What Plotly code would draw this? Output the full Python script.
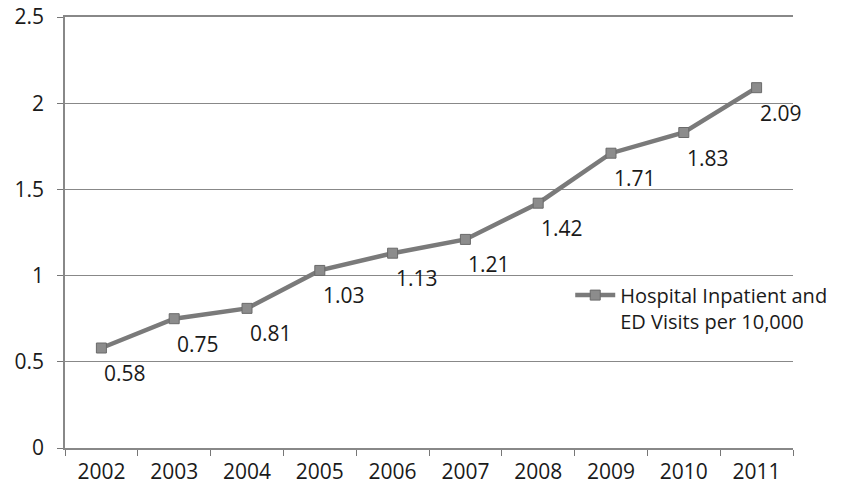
import plotly.graph_objects as go

years = ["2002", "2003", "2004", "2005", "2006", "2007", "2008", "2009", "2010", "2011"]
values = [0.58, 0.75, 0.81, 1.03, 1.13, 1.21, 1.42, 1.71, 1.83, 2.09]
labels = ["0.58", "0.75", "0.81", "1.03", "1.13", "1.21", "1.42", "1.71", "1.83", "2.09"]
series_name = "Hospital Inpatient and<br>ED Visits per 10,000"
y_ticks = [0, 0.5, 1, 1.5, 2, 2.5]
y_tick_text = ["0", "0.5", "1", "1.5", "2", "2.5"]

FONT = "Open Sans"
FS = 21
TXT = "#1a1a1a"
fig = go.Figure()
fig.add_trace(go.Scatter(
    x=years, y=values, mode="lines+markers", name=series_name,
    line=dict(color="#7a7a7a", width=4.5),
    marker=dict(symbol="square", size=10, color="#8c8c8c", line=dict(color="#6a6a6a", width=1)),
))
# data labels, placed by category index on the category axis
for i, (v, lab) in enumerate(zip(values, labels)):
    fig.add_annotation(x=i, y=v, text=lab, showarrow=False, xref="x", yref="y",
                       xanchor="center", yanchor="middle", xshift=24, yshift=-25,
                       font=dict(family=FONT, size=FS, color=TXT))

fig.update_layout(
    width=849, height=495,
    margin=dict(l=65, r=56, t=17, b=47),
    paper_bgcolor="white", plot_bgcolor="white",
    font=dict(family=FONT, size=FS, color=TXT),
    showlegend=True,
    legend=dict(x=0.694, y=0.40, xanchor="left", yanchor="top", valign="top",
                bgcolor="rgba(0,0,0,0)", font=dict(family=FONT, size=20, color=TXT),
                itemwidth=40, borderwidth=0),
    xaxis=dict(type="category", range=[-0.5, 9.5], tickson="boundaries", automargin=False,
               ticks="outside", ticklen=6, tickcolor="#777", ticklabelstandoff=4,
               ticklabeloverflow="allow", mirror=True,
               showline=True, linecolor="#888", linewidth=1.5,
               showgrid=False, tickfont=dict(family=FONT, size=FS, color=TXT)),
    yaxis=dict(range=[0, 2.5], tickvals=y_ticks, ticktext=y_tick_text, automargin=False,
               ticks="outside", ticklen=6, tickcolor="#777", ticklabelstandoff=9,
               ticklabeloverflow="allow",
               showline=True, linecolor="#888", linewidth=1.5,
               showgrid=True, gridcolor="#888", gridwidth=1, zeroline=False,
               tickfont=dict(family=FONT, size=FS, color=TXT)),
)
fig.write_html("out.html", config={"displayModeBar": False},
               post_script="document.body.style.margin='0';document.body.style.overflow='hidden';")
